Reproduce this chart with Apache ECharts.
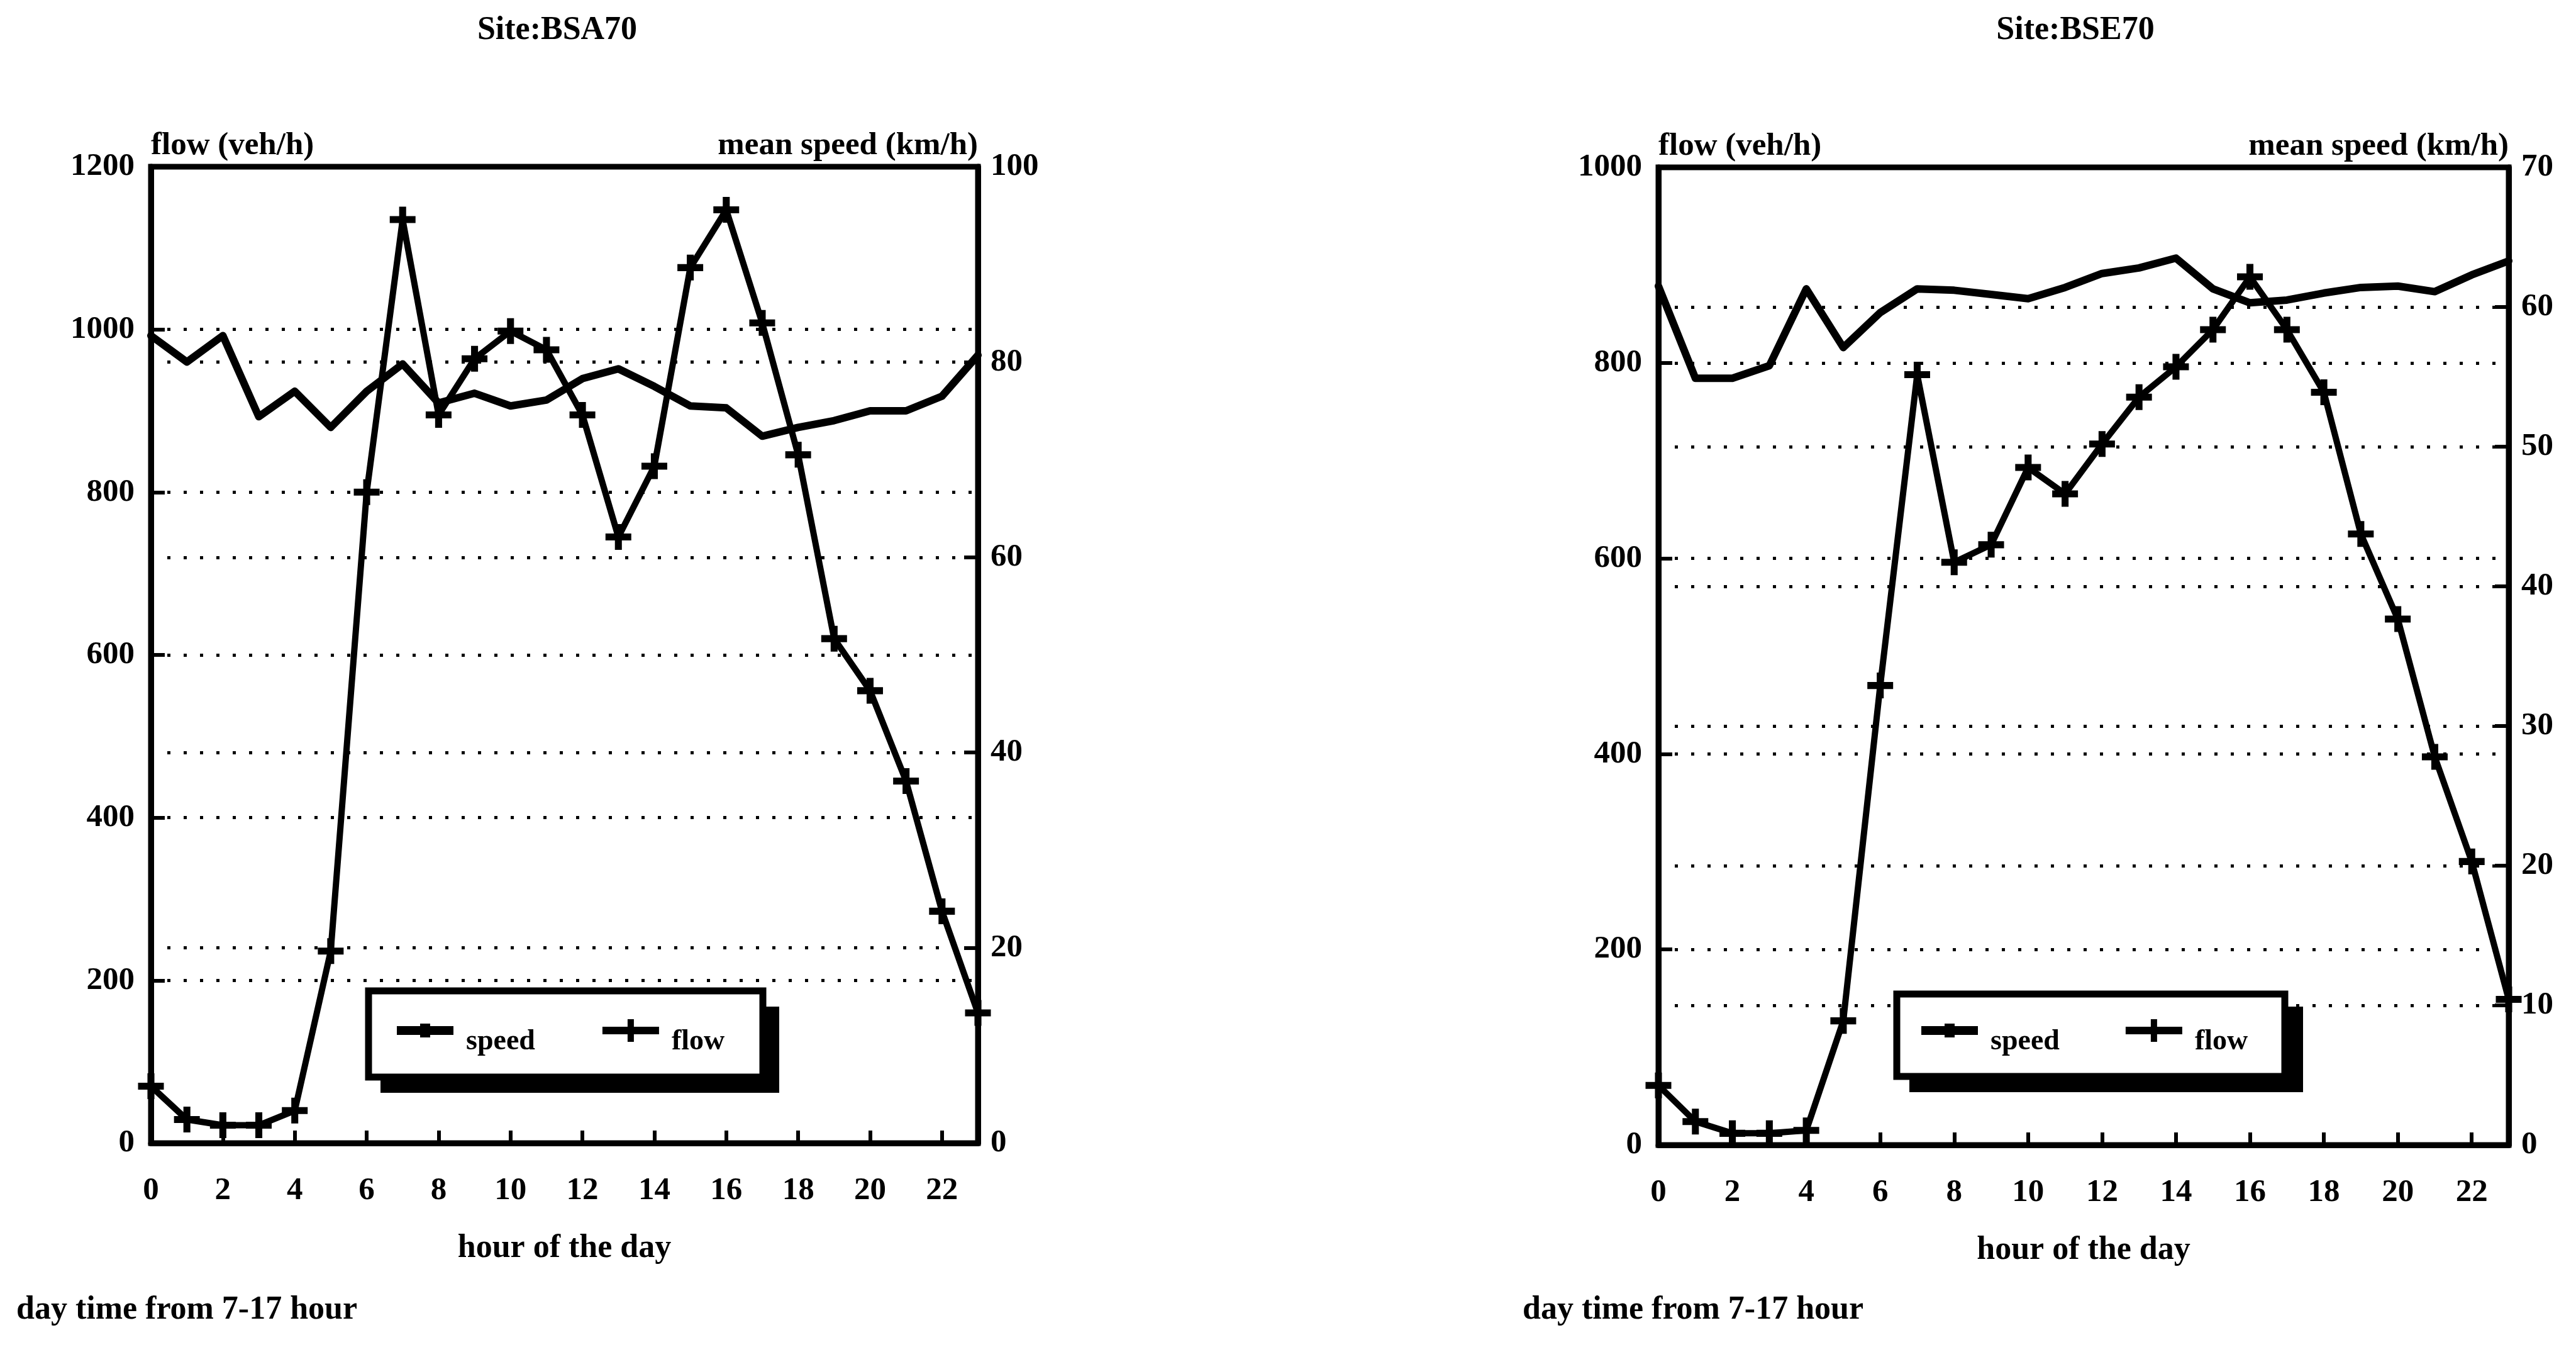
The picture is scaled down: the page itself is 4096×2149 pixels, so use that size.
<!DOCTYPE html>
<html>
<head>
<meta charset="utf-8">
<title>Hourly flow and mean speed — BSA70 / BSE70</title>
<script src="https://cdn.jsdelivr.net/npm/echarts@6/dist/echarts.min.js"></script>
<style>
  html, body { margin: 0; padding: 0; background: #fff; }
  #chart { width: 4096px; height: 2149px; }
</style>
</head>
<body>
<div id="chart"></div>
<script>
// Hour-of-day categories and axis ticks
const hours = ['0','1','2','3','4','5','6','7','8','9','10','11','12','13','14','15','16','17','18','19','20','21','22','23'];
const bsaFlowTicks = [0, 200, 400, 600, 800, 1000, 1200];
const bsaSpeedTicks = [0, 20, 40, 60, 80, 100];
const bseFlowTicks = [0, 200, 400, 600, 800, 1000];
const bseSpeedTicks = [0, 10, 20, 30, 40, 50, 60, 70];

// Site BSA70: flow (veh/h) and mean speed (km/h) per hour
const bsaFlow = [70, 29, 22, 22, 40, 236, 800, 1135, 895, 964, 998, 975, 895, 745, 832, 1076, 1147, 1008, 846, 620, 556, 445, 285, 160];
const bsaSpeed = [82.7, 80.0, 82.7, 74.4, 77.0, 73.3, 77.0, 79.8, 75.8, 76.8, 75.5, 76.1, 78.3, 79.3, 77.5, 75.5, 75.3, 72.4, 73.3, 74.0, 75.0, 75.0, 76.5, 80.7];

// Site BSE70: flow (veh/h) and mean speed (km/h) per hour
const bseFlow = [61, 24, 12, 12, 15, 127, 470, 788, 596, 614, 693, 666, 717, 765, 796, 834, 888, 834, 770, 625, 538, 397, 290, 149];
const bseSpeed = [61.5, 54.9, 54.9, 55.8, 61.3, 57.1, 59.6, 61.3, 61.2, 60.9, 60.6, 61.4, 62.4, 62.8, 63.5, 61.3, 60.3, 60.5, 61.0, 61.4, 61.5, 61.1, 62.3, 63.3];

const FONT = 'Liberation Serif';
const INK = '#000';
const PLUS = 'path://M3.65,0H6.35V3.65H10V6.35H6.35V10H3.65V6.35H0V3.65H3.65Z';
const ICON_SPEED = 'path://M0,11H90V25H0Z M37,7H53V29H37Z';
const ICON_FLOW = 'path://M0,12H90V24H0Z M40,0H50V36H40Z';

const labelStyle = { color: INK, fontFamily: FONT, fontWeight: 'bold', fontSize: 51 };
const plainNumber = (v) => String(v);
const dotted = { show: true, lineStyle: { color: INK, width: 5, type: [5, 21] } };
const tick = (len) => ({ show: true, inside: true, length: len, lineStyle: { color: INK, width: 6 } });
const axisLine = { show: true, lineStyle: { color: INK, width: 9 } };

function yAxes(gridIndex, flowMax, speedMax, speedStep) {
  return [
    {
      gridIndex, type: 'value', position: 'left', min: 0, max: flowMax, interval: 200,
      name: 'flow (veh/h)', nameLocation: 'end', nameGap: 33,
      nameTextStyle: Object.assign({}, labelStyle, { align: 'left', verticalAlign: 'middle' }),
      axisLine, axisTick: tick(22), splitLine: dotted,
      axisLabel: Object.assign({}, labelStyle, { margin: 26, formatter: plainNumber })
    },
    {
      gridIndex, type: 'value', position: 'right', min: 0, max: speedMax, interval: speedStep,
      name: 'mean speed (km/h)', nameLocation: 'end', nameGap: 33,
      nameTextStyle: Object.assign({}, labelStyle, { align: 'right', verticalAlign: 'middle' }),
      axisLine, axisTick: tick(22), splitLine: dotted,
      axisLabel: Object.assign({}, labelStyle, { margin: 20, formatter: plainNumber })
    }
  ];
}

function xAxis(gridIndex) {
  return {
    gridIndex, type: 'category', data: hours, boundaryGap: false,
    name: 'hour of the day', nameLocation: 'middle', nameGap: 168,
    nameTextStyle: Object.assign({}, labelStyle, { fontSize: 52, verticalAlign: 'middle' }),
    axisLine, axisTick: Object.assign(tick(20), { interval: 1 }),
    axisLabel: Object.assign({}, labelStyle, { interval: 1, margin: 50 }),
    splitLine: { show: false }
  };
}

function speedSeries(xi, yi, data) {
  return {
    name: 'speed', type: 'line', xAxisIndex: xi, yAxisIndex: yi, data,
    symbol: 'none', showSymbol: false, color: INK,
    lineStyle: { color: INK, width: 12, join: 'round', cap: 'round' },
    z: 3
  };
}

function flowSeries(xi, yi, data) {
  return {
    name: 'flow', type: 'line', xAxisIndex: xi, yAxisIndex: yi, data,
    symbol: PLUS, symbolSize: 41, showSymbol: true, showAllSymbol: true, color: INK,
    itemStyle: { color: INK, borderWidth: 0 },
    lineStyle: { color: INK, width: 10, join: 'round', cap: 'round' },
    z: 4
  };
}

function legend(left, top, gap) {
  return {
    left, top, padding: 0, orient: 'horizontal', z: 20,
    itemWidth: 90, itemHeight: 36, itemGap: gap,
    selectedMode: false,
    itemStyle: { color: INK, borderWidth: 0 },
    formatter: '{t|{name}}',
    textStyle: {
      color: INK, fontFamily: FONT, fontWeight: 'bold', fontSize: 46,
      rich: { t: { color: INK, fontFamily: FONT, fontWeight: 'bold', fontSize: 46, padding: [36, 0, 0, 15] } }
    },
    data: [ { name: 'speed', icon: ICON_SPEED }, { name: 'flow', icon: ICON_FLOW } ]
  };
}

// Legend panel: solid offset shadow under a white framed box
function legendFrame(box, shadow) {
  return [
    { type: 'rect', z: 15, shape: shadow, style: { fill: INK } },
    { type: 'rect', z: 16, shape: box, style: { fill: '#fff', stroke: INK, lineWidth: 11 } }
  ];
}

function text(x, y, str, size, align) {
  return {
    type: 'text', x, y, z: 20,
    style: { text: str, fill: INK, font: 'bold ' + size + 'px "' + FONT + '"', align: align, verticalAlign: 'middle' }
  };
}

const chart = echarts.init(document.getElementById('chart'), null, { renderer: 'canvas' });

chart.setOption({
  animation: false,
  backgroundColor: '#fff',
  grid: [
    { left: 240, top: 265, width: 1315, height: 1552, show: true, borderColor: INK, borderWidth: 9, containLabel: false },
    { left: 2637, top: 266, width: 1352, height: 1554, show: true, borderColor: INK, borderWidth: 9, containLabel: false }
  ],
  xAxis: [ xAxis(0), xAxis(1) ],
  yAxis: [].concat(
    yAxes(0, bsaFlowTicks[bsaFlowTicks.length - 1], bsaSpeedTicks[bsaSpeedTicks.length - 1], bsaSpeedTicks[1]),
    yAxes(1, bseFlowTicks[bseFlowTicks.length - 1], bseSpeedTicks[bseSpeedTicks.length - 1], bseSpeedTicks[1])
  ),
  legend: [ legend(631, 1620, 107), legend(3055, 1620, 105) ],
  series: [
    speedSeries(0, 1, bsaSpeed),
    flowSeries(0, 0, bsaFlow),
    speedSeries(1, 3, bseSpeed),
    flowSeries(1, 2, bseFlow)
  ],
  graphic: [].concat(
    legendFrame({ x: 586, y: 1575, width: 627, height: 137 }, { x: 605, y: 1600, width: 634, height: 137 }),
    legendFrame({ x: 3016, y: 1580, width: 617, height: 131 }, { x: 3036, y: 1600, width: 626, height: 136 }),
    [
      text(886, 49, 'Site:BSA70', 52, 'center'),
      text(3300, 49, 'Site:BSE70', 52, 'center'),
      text(26, 2083, 'day time from 7-17 hour', 52, 'left'),
      text(2421, 2083, 'day time from 7-17 hour', 52, 'left')
    ]
  )
});
</script>
</body>
</html>
